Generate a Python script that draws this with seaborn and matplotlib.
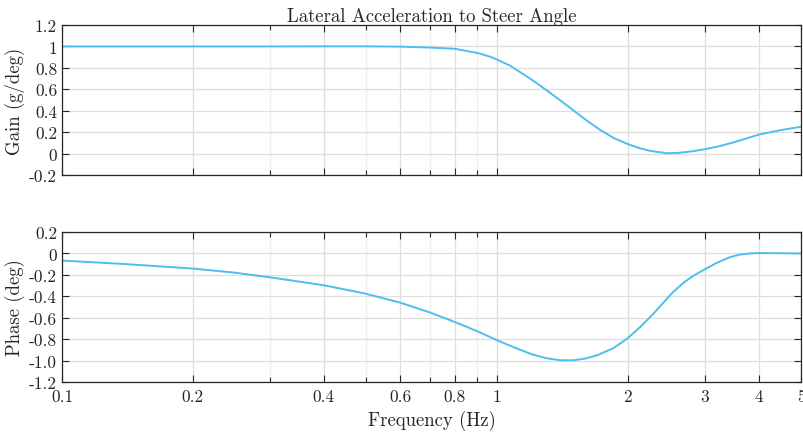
import numpy as np
import pandas as pd
import matplotlib
matplotlib.use("Agg")
import matplotlib.pyplot as plt
import seaborn as sns
from matplotlib.ticker import FixedLocator, NullFormatter

# values (frequency in Hz)
gain_freq = [0.1, 0.2, 0.3, 0.4, 0.5, 0.6, 0.7, 0.8, 0.9, 0.964, 1.0, 1.07, 1.149,
             1.22, 1.301, 1.4, 1.497, 1.6, 1.725, 1.85, 2.0, 2.13, 2.25, 2.46, 2.6,
             2.8, 3.0, 3.25, 3.5, 3.75, 4.0, 4.5, 5.0]
gain_val = [1.0, 1.0, 1.0, 1.001, 1.001, 0.998, 0.99, 0.978, 0.94, 0.905, 0.878, 0.822, 0.742,
            0.672, 0.59, 0.495, 0.405, 0.315, 0.222, 0.148, 0.088, 0.05, 0.025, 0.003, 0.006,
            0.02, 0.04, 0.07, 0.105, 0.142, 0.177, 0.22, 0.25]

phase_freq = [0.1, 0.141, 0.2, 0.248, 0.3, 0.4, 0.5, 0.6, 0.7, 0.8, 0.9, 1.0, 1.1, 1.2,
              1.3, 1.4, 1.5, 1.6, 1.7, 1.85, 2.0, 2.13, 2.28, 2.4, 2.54, 2.7, 2.85, 3.0,
              3.2, 3.43, 3.6, 3.8, 4.0, 4.5, 5.0]
phase_val = [-0.066, -0.10, -0.141, -0.178, -0.222, -0.297, -0.376, -0.46, -0.55, -0.64,
             -0.725, -0.81, -0.88, -0.94, -0.978, -0.997, -0.997, -0.98, -0.95, -0.885,
             -0.79, -0.69, -0.57, -0.47, -0.36, -0.265, -0.2, -0.15, -0.088, -0.035,
             -0.012, 0.0, 0.004, 0.002, 0.0]

x_ticks = [0.1, 0.2, 0.4, 0.6, 0.8, 1, 2, 3, 4, 5]
x_ticklabels = ["0.1", "0.2", "0.4", "0.6", "0.8", "1", "2", "3", "4", "5"]
x_minor = [0.3, 0.5, 0.7, 0.9]

gain_ticks = [-0.2, 0, 0.2, 0.4, 0.6, 0.8, 1, 1.2]
gain_ticklabels = ["-0.2", "0", "0.2", "0.4", "0.6", "0.8", "1", "1.2"]
phase_ticks = [-1.2, -1.0, -0.8, -0.6, -0.4, -0.2, 0, 0.2]
phase_ticklabels = ["-1.2", "-1.0", "-0.8", "-0.6", "-0.4", "-0.2", "0", "0.2"]

gain_df = pd.DataFrame({"freq": gain_freq, "gain": gain_val})
phase_df = pd.DataFrame({"freq": phase_freq, "phase": phase_val})

sns.set_theme(style="white")
plt.rcParams["font.family"] = ["cmr10", "DejaVu Serif"]
plt.rcParams["axes.unicode_minus"] = False
plt.rcParams["mathtext.fontset"] = "cm"

line_color = "#4DBEEE"
dark = "#262626"

fig = plt.figure(figsize=(8.04, 4.35), dpi=100)
ax1 = fig.add_axes([0.0771, 0.5954, 0.9192, 0.3448])
ax2 = fig.add_axes([0.0771, 0.1195, 0.9192, 0.3448])

sns.lineplot(data=gain_df, x="freq", y="gain", ax=ax1, color=line_color, lw=1.4)
sns.lineplot(data=phase_df, x="freq", y="phase", ax=ax2, color=line_color, lw=1.4)

for ax, yt, ytl, ylim in [(ax1, gain_ticks, gain_ticklabels, (-0.2, 1.2)),
                          (ax2, phase_ticks, phase_ticklabels, (-1.2, 0.2))]:
    ax.set_xscale("log")
    ax.set_xlim(0.1, 5)
    ax.set_ylim(*ylim)
    ax.xaxis.set_major_locator(FixedLocator(x_ticks))
    ax.xaxis.set_minor_locator(FixedLocator(x_minor))
    ax.xaxis.set_minor_formatter(NullFormatter())
    ax.set_xticks(x_ticks)
    ax.set_xticklabels(x_ticklabels)
    ax.set_yticks(yt)
    ax.set_yticklabels(ytl)
    ax.grid(True, which="major", color="#dedede", lw=0.9)
    ax.grid(True, which="minor", axis="x", color="#eeeeee", lw=0.9)
    ax.set_axisbelow(True)
    for s in ax.spines.values():
        s.set_visible(True)
        s.set_color(dark)
        s.set_linewidth(0.9)
    ax.tick_params(which="both", direction="in", top=True, right=True,
                   bottom=True, left=True, color=dark, width=0.8,
                   labelsize=12.5, labelcolor=dark)
    ax.tick_params(which="major", length=5.2)
    ax.tick_params(which="minor", length=3.5)
    ax.tick_params(axis="y", pad=3.5)
    ax.tick_params(axis="x", pad=5)

ax1.set_xticklabels([])
ax1.set_xlabel("")
ax1.set_title("Lateral Acceleration to Steer Angle", fontsize=13.5, color=dark, pad=3)
ax1.set_ylabel("Gain (g/deg)", fontsize=13.5, color=dark, labelpad=3)
ax2.set_ylabel("Phase (deg)", fontsize=13.5, color=dark, labelpad=3)
ax2.set_xlabel("Frequency (Hz)", fontsize=13.5, color=dark, labelpad=4)

fig.savefig("out.png", dpi=100)
